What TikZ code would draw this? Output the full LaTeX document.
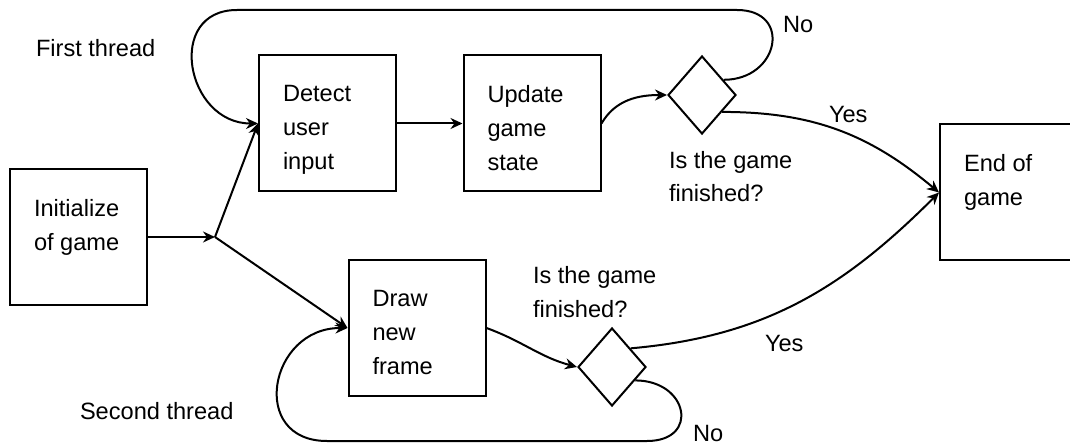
\documentclass[tikz,border=0pt]{standalone}
\usepackage{fontspec}
\setmainfont{Liberation Sans}
\usetikzlibrary{arrows.meta,shapes.geometric}

\newcommand{\steptext}[1]{\parbox[c][56pt][t]{44.5pt}{\vspace*{9pt}\raggedright #1}}

\begin{document}
\begin{tikzpicture}[x=0.5pt, y=0.5pt, line width=1pt,
    font=\fontsize{11.8}{17}\selectfont,
    stepbox/.style={draw, rectangle, inner sep=0pt, minimum width=68.5pt, minimum height=68pt},
    check/.style={draw, diamond, inner sep=0pt, minimum width=34pt, minimum height=39pt},
    note/.style={anchor=base west, inner sep=0pt, align=left},
    flow/.style={-{Stealth[length=6pt,width=5.5pt]}}]
    \useasboundingbox (0,0) rectangle (1070,-443);

    \node[stepbox] (init) at (78.5,-237) {\steptext{Initialize\\of game}};
    \node[stepbox] (detect) at (327.5,-123.5) {\steptext{Detect\\user\\input}};
    \node[stepbox] (update) at (532,-123.5) {\steptext{Update\\game\\state}};
    \node[check] (dia1) at (702,-95) {};
    \node[stepbox] (endg) at (1008.5,-192.5) {\steptext{End of\\game}};
    \node[stepbox] (frame) at (417,-328) {\steptext{Draw\\new\\frame}};
    \node[check] (dia2) at (612,-367) {};

    \coordinate (fork) at (215,-237);
    \coordinate (topR) at (737,-10);
    \coordinate (topL) at (237,-10);
    \coordinate (botR) at (647,-441);
    \coordinate (botL) at (327,-441);

    \node[note] (thr1) at (35,-57) {First thread};
    \node[note] (thr2) at (79,-419) {Second thread};
    \node[note] (ask1) at (668,-202) {Is the game\\finished?};
    \node[note] (ask2) at (532,-317) {Is the game\\finished?};
    \node[note] (yes1) at (828,-123) {Yes};
    \node[note] (yes2) at (764,-351) {Yes};
    \node[note] (no1) at (782,-33) {No};
    \node[note] (no2) at (692,-441) {No};

    \draw[flow] (init) -- (fork);
    \draw[flow] (fork) -- (detect.west);
    \draw[flow] (fork) -- (frame.west);
    \draw[flow] (detect) -- (update);
    \draw[flow] (update.east) to[out=60,in=180] (dia1.west);
    \draw[flow] (frame.east) to[out=-20,in=165] (dia2.west);
    \draw[flow] (dia1.-40) to[out=0,in=140] (endg.west);
    \draw[flow] (dia2.45) to[out=5,in=-135] (endg.west);
    \draw[flow] (dia1.35) to[out=0,in=0,looseness=2] (topR) -- (topL)
        to[out=180,in=180,looseness=1.6] (detect.west);
    \draw[flow] (dia2.-30) to[out=0,in=0,looseness=2.2] (botR) -- (botL)
        to[out=180,in=180,looseness=1.75] (frame.west);
\end{tikzpicture}
\end{document}
